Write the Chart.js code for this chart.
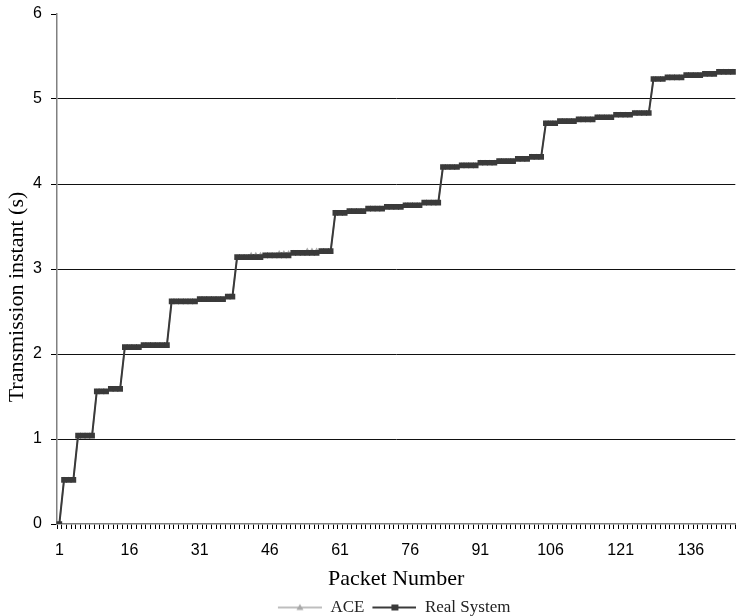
<!DOCTYPE html>
<html><head><meta charset="utf-8">
<script src="https://cdn.jsdelivr.net/npm/chart.js@4/dist/chart.umd.min.js"></script>
<style>html,body{margin:0;padding:0;background:#fff;overflow:hidden}#wrap{width:745px;height:616px;position:relative}</style>
</head><body><div id="wrap"><canvas id="c" width="745" height="616"></canvas></div>
<script>
const packetNumbers = [1,2,3,4,5,6,7,8,9,10,11,12,13,14,15,16,17,18,19,20,21,22,23,24,25,26,27,28,29,30,
31,32,33,34,35,36,37,38,39,40,41,42,43,44,45,46,47,48,49,50,51,52,53,54,55,56,57,58,59,60,
61,62,63,64,65,66,67,68,69,70,71,72,73,74,75,76,77,78,79,80,81,82,83,84,85,86,87,88,89,90,
91,92,93,94,95,96,97,98,99,100,101,102,103,104,105,106,107,108,109,110,111,112,113,114,115,116,117,118,119,120,
121,122,123,124,125,126,127,128,129,130,131,132,133,134,135,136,137,138,139,140,141,142,143,144,145];
const xTickLabels = [1,16,31,46,61,76,91,106,121,136];
const yTickValues = [0,1,2,3,4,5,6];
const seriesNames = ['ACE','Real System'];
const xAxisTitle = 'Packet Number';
const yAxisTitle = 'Transmission instant (s)';
const realSystemTimes = [0,
0.52,0.52,0.52,
1.04,1.04,1.04,1.04,
1.56,1.56,1.56,
1.59,1.59,1.59,
2.08,2.08,2.08,2.08,
2.105,2.105,2.105,2.105,2.105,2.105,
2.62,2.62,2.62,2.62,2.62,2.62,
2.645,2.645,2.645,2.645,2.645,2.645,
2.675,2.675,
3.14,3.14,3.14,3.14,3.14,3.14,
3.16,3.16,3.16,3.16,3.16,3.16,
3.19,3.19,3.19,3.19,3.19,3.19,
3.21,3.21,3.21,
3.66,3.66,3.66,
3.68,3.68,3.68,3.68,
3.71,3.71,3.71,3.71,
3.73,3.73,3.73,3.73,
3.75,3.75,3.75,3.75,
3.78,3.78,3.78,3.78,
4.20,4.20,4.20,4.20,
4.22,4.22,4.22,4.22,
4.25,4.25,4.25,4.25,
4.27,4.27,4.27,4.27,
4.295,4.295,4.295,
4.32,4.32,4.32,
4.715,4.715,4.715,
4.74,4.74,4.74,4.74,
4.76,4.76,4.76,4.76,
4.785,4.785,4.785,4.785,
4.815,4.815,4.815,4.815,
4.835,4.835,4.835,4.835,
5.235,5.235,5.235,
5.255,5.255,5.255,5.255,
5.28,5.28,5.28,5.28,
5.295,5.295,5.295,
5.32,5.32,5.32,5.32];
const aceTimes = [0,
0.52,0.52,0.52,
1.04,1.04,1.04,1.04,
1.56,1.56,1.56,
1.59,1.59,1.59,
2.08,2.08,2.08,2.08,
2.105,2.105,2.105,2.105,2.105,2.105,
2.62,2.62,2.62,2.62,2.62,2.62,
2.645,2.645,2.645,2.645,2.645,2.645,
2.675,2.675,
3.14,3.14,3.14,3.165,3.165,3.165,
3.16,3.16,3.16,3.185,3.185,3.185,
3.19,3.19,3.19,3.215,3.215,3.215,
3.21,3.21,3.21,
3.66,3.66,3.66,
3.68,3.68,3.68,3.68,
3.71,3.71,3.71,3.71,
3.73,3.73,3.73,3.73,
3.75,3.75,3.75,3.75,
3.78,3.78,3.78,3.78,
4.20,4.20,4.20,4.20,
4.22,4.22,4.22,4.22,
4.25,4.25,4.25,4.25,
4.27,4.27,4.27,4.27,
4.295,4.295,4.295,
4.32,4.32,4.32,
4.715,4.715,4.715,
4.74,4.74,4.74,4.74,
4.76,4.76,4.76,4.76,
4.785,4.785,4.785,4.785,
4.815,4.815,4.815,4.815,
4.835,4.835,4.835,4.835,
5.235,5.235,5.235,
5.255,5.255,5.255,5.255,
5.28,5.28,5.28,5.28,
5.295,5.295,5.295,
5.32,5.32,5.32,5.32];

const ACE_COLOR = '#a9a9a9';
const RS_COLOR = '#3a3a3a';

function legendIcon(color, style, lw) {
  const c = document.createElement('canvas'); c.width = 50; c.height = 10;
  const g = c.getContext('2d');
  g.strokeStyle = color; g.lineWidth = lw;
  g.beginPath(); g.moveTo(6, 5); g.lineTo(50, 5); g.stroke();
  g.fillStyle = color;
  if (style === 'triangle') { g.beginPath(); g.moveTo(28, 1.5); g.lineTo(31.5, 7.5); g.lineTo(24.5, 7.5); g.closePath(); g.fill(); }
  else { g.fillRect(25, 2, 7, 6); }
  return c;
}
const icons = [legendIcon(ACE_COLOR, 'triangle', 1.5), legendIcon(RS_COLOR, 'rect', 2)];

const yTitlePlugin = {
  id: 'yTitle',
  afterLayout(chart) {
    if (chart.legend) { chart.legend.left -= 5; chart.legend.right -= 5; }
  },
  afterDraw(chart) {
    const ctx = chart.ctx;
    ctx.save();
    ctx.translate(17.5, 297);
    ctx.rotate(-Math.PI / 2);
    ctx.font = '22px "Liberation Serif"';
    ctx.fillStyle = '#000';
    ctx.textAlign = 'center';
    ctx.textBaseline = 'middle';
    ctx.fillText(yAxisTitle, 0, 0);
    ctx.restore();
  }
};

new Chart(document.getElementById('c'), {
  type: 'line',
  data: {
    labels: packetNumbers,
    datasets: [
      { label: seriesNames[0], data: aceTimes, order: 2, borderColor: ACE_COLOR, backgroundColor: ACE_COLOR,
        borderWidth: 1.5, pointStyle: 'triangle', pointRadius: 3.2, pointBorderWidth: 0, tension: 0 },
      { label: seriesNames[1], data: realSystemTimes, order: 1, borderColor: RS_COLOR, backgroundColor: RS_COLOR,
        borderWidth: 2, pointStyle: 'rect', pointRadius: 4, pointBorderWidth: 0, tension: 0 }
    ]
  },
  plugins: [yTitlePlugin],
  options: {
    responsive: false, animation: false, devicePixelRatio: 1,
    layout: { padding: { left: 0, right: 0, top: 14, bottom: -10 } },
    plugins: {
      tooltip: { enabled: false },
      legend: {
        position: 'bottom', fullSize: false,
        labels: {
          usePointStyle: true, pointStyleWidth: 50, boxHeight: 10, padding: 2,
          font: { family: 'Liberation Serif', size: 17 }, color: '#222',
          sort: (a, b) => a.datasetIndex - b.datasetIndex,
          generateLabels: (chart) => Chart.defaults.plugins.legend.labels.generateLabels(chart).map(it => {
            it.pointStyle = icons[it.datasetIndex]; return it; })
        }
      }
    },
    scales: {
      x: {
        type: 'category', offset: true,
        border: { display: true, color: '#808080', width: 1.5 },
        grid: { display: true, drawOnChartArea: false, drawTicks: true, tickLength: 5, color: '#000', offset: true },
        ticks: { autoSkip: false, maxRotation: 0, minRotation: 0, padding: 12, color: '#000',
          font: { family: 'Liberation Sans', size: 16 },
          callback: function (v, i) { const p = packetNumbers[i]; return xTickLabels.includes(p) ? String(p) : ''; } },
        title: { display: true, text: xAxisTitle, color: '#000', font: { family: 'Liberation Serif', size: 22 }, padding: { top: 4, bottom: 5 } },
        afterFit: (s) => { s.height = 73; }
      },
      y: {
        min: 0, max: 6,
        border: { display: true, color: '#808080', width: 1.5 },
        grid: { drawTicks: true, tickLength: 6, tickColor: '#000',
          color: (ctx) => (ctx.tick && (ctx.tick.value === 6 || ctx.tick.value === 0)) ? 'rgba(0,0,0,0)' : '#111' },
        ticks: { stepSize: 1, padding: 9, color: '#000', font: { family: 'Liberation Sans', size: 16 },
          callback: (v) => yTickValues.includes(v) ? String(v) : '' },
        afterFit: (s) => { s.width = 57; s.paddingTop = 0; s.paddingBottom = 0; }
      }
    }
  }
});
</script></body></html>
